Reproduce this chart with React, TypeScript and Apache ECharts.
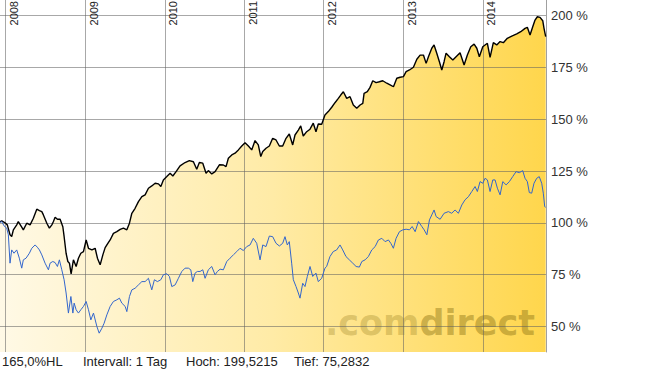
import React, { useEffect, useRef } from "react";
import * as echarts from "echarts";

// time as decimal years
const blackYears = [2007.928, 2007.950, 2007.991, 2008.020, 2008.054, 2008.075, 2008.096, 2008.138, 2008.158, 2008.201, 2008.221, 2008.264, 2008.306, 2008.347, 2008.390, 2008.423, 2008.453, 2008.473, 2008.516, 2008.548, 2008.579, 2008.599, 2008.620, 2008.649, 2008.683, 2008.717, 2008.733, 2008.758, 2008.780, 2008.800, 2008.821, 2008.850, 2008.884, 2008.913, 2008.943, 2008.976, 2009.010, 2009.039, 2009.082, 2009.123, 2009.152, 2009.186, 2009.220, 2009.249, 2009.291, 2009.312, 2009.353, 2009.396, 2009.438, 2009.479, 2009.522, 2009.555, 2009.585, 2009.626, 2009.668, 2009.711, 2009.752, 2009.794, 2009.836, 2009.878, 2009.920, 2009.950, 2009.982, 2010.025, 2010.067, 2010.101, 2010.142, 2010.192, 2010.255, 2010.309, 2010.360, 2010.402, 2010.435, 2010.478, 2010.519, 2010.548, 2010.591, 2010.633, 2010.687, 2010.737, 2010.771, 2010.800, 2010.843, 2010.884, 2010.926, 2010.969, 2011.010, 2011.052, 2011.094, 2011.136, 2011.177, 2011.208, 2011.233, 2011.274, 2011.316, 2011.358, 2011.400, 2011.442, 2011.484, 2011.526, 2011.567, 2011.610, 2011.639, 2011.681, 2011.711, 2011.743, 2011.786, 2011.828, 2011.869, 2011.903, 2011.932, 2011.975, 2012.016, 2012.058, 2012.101, 2012.142, 2012.184, 2012.214, 2012.247, 2012.289, 2012.331, 2012.372, 2012.415, 2012.457, 2012.491, 2012.507, 2012.548, 2012.582, 2012.616, 2012.658, 2012.699, 2012.742, 2012.792, 2012.834, 2012.876, 2012.918, 2012.960, 2013.001, 2013.035, 2013.077, 2013.127, 2013.170, 2013.211, 2013.253, 2013.287, 2013.316, 2013.358, 2013.387, 2013.421, 2013.454, 2013.484, 2013.513, 2013.538, 2013.580, 2013.623, 2013.664, 2013.714, 2013.765, 2013.806, 2013.849, 2013.891, 2013.925, 2013.957, 2014.000, 2014.058, 2014.092, 2014.133, 2014.176, 2014.218, 2014.259, 2014.309, 2014.365, 2014.428, 2014.478, 2014.532, 2014.561, 2014.595, 2014.629, 2014.658, 2014.687, 2014.721, 2014.755, 2014.771, 2014.792];
const blackValues = [100.4, 101.0, 100.0, 99.0, 94.2, 93.4, 96.6, 99.0, 100.6, 97.9, 96.6, 99.8, 99.0, 102.2, 106.6, 105.9, 105.4, 103.8, 99.8, 97.4, 99.0, 100.6, 102.7, 101.7, 101.7, 98.1, 93.4, 85.3, 81.3, 80.5, 75.3, 82.1, 78.9, 82.9, 85.3, 86.1, 91.7, 87.7, 86.9, 87.7, 82.9, 79.7, 84.5, 88.0, 90.5, 91.7, 94.9, 95.7, 96.8, 97.4, 96.6, 99.8, 104.6, 107.0, 110.2, 112.6, 113.5, 116.7, 117.8, 119.1, 118.8, 117.5, 120.7, 122.3, 123.9, 122.6, 124.7, 127.5, 129.1, 130.0, 129.5, 125.9, 129.1, 128.8, 123.9, 125.2, 123.6, 124.7, 128.0, 127.9, 127.1, 131.2, 132.8, 133.6, 135.2, 137.1, 138.7, 137.1, 135.2, 139.7, 137.6, 132.0, 134.4, 136.0, 137.1, 140.8, 140.0, 137.1, 137.1, 140.8, 142.9, 137.6, 142.4, 144.8, 146.8, 141.9, 144.0, 145.2, 148.1, 144.0, 147.7, 147.6, 152.1, 153.7, 155.8, 158.0, 160.1, 161.7, 163.3, 160.1, 160.9, 156.9, 155.3, 156.9, 157.7, 162.5, 163.3, 165.4, 168.6, 167.7, 168.1, 168.6, 167.4, 166.6, 165.7, 169.8, 170.3, 170.6, 173.0, 173.8, 175.1, 179.0, 181.0, 181.0, 177.0, 180.2, 184.3, 185.9, 181.9, 177.8, 173.8, 177.8, 181.9, 180.2, 178.6, 180.2, 182.1, 176.2, 181.0, 185.0, 186.3, 184.3, 180.2, 185.0, 186.7, 179.9, 187.0, 185.9, 187.5, 187.0, 189.1, 190.2, 191.2, 192.3, 193.9, 194.4, 190.7, 194.7, 197.9, 199.5, 199.2, 197.6, 193.9, 189.9];

const blueYears = [2007.928, 2007.950, 2007.979, 2008.013, 2008.033, 2008.054, 2008.075, 2008.104, 2008.138, 2008.171, 2008.201, 2008.221, 2008.255, 2008.297, 2008.327, 2008.369, 2008.397, 2008.423, 2008.453, 2008.494, 2008.536, 2008.557, 2008.591, 2008.620, 2008.649, 2008.674, 2008.704, 2008.733, 2008.758, 2008.787, 2008.818, 2008.843, 2008.859, 2008.884, 2008.913, 2008.943, 2008.976, 2009.010, 2009.039, 2009.069, 2009.102, 2009.145, 2009.174, 2009.208, 2009.236, 2009.270, 2009.312, 2009.353, 2009.396, 2009.429, 2009.459, 2009.501, 2009.522, 2009.555, 2009.585, 2009.626, 2009.668, 2009.711, 2009.752, 2009.794, 2009.836, 2009.869, 2009.907, 2009.950, 2009.982, 2010.025, 2010.058, 2010.088, 2010.130, 2010.171, 2010.214, 2010.255, 2010.297, 2010.327, 2010.352, 2010.381, 2010.410, 2010.444, 2010.478, 2010.507, 2010.548, 2010.591, 2010.633, 2010.662, 2010.696, 2010.737, 2010.780, 2010.821, 2010.863, 2010.906, 2010.947, 2010.989, 2011.031, 2011.073, 2011.114, 2011.157, 2011.199, 2011.233, 2011.274, 2011.316, 2011.358, 2011.400, 2011.442, 2011.484, 2011.513, 2011.542, 2011.567, 2011.597, 2011.618, 2011.652, 2011.681, 2011.702, 2011.736, 2011.765, 2011.794, 2011.828, 2011.862, 2011.903, 2011.932, 2011.975, 2012.016, 2012.037, 2012.079, 2012.120, 2012.163, 2012.205, 2012.239, 2012.280, 2012.322, 2012.365, 2012.407, 2012.448, 2012.479, 2012.520, 2012.561, 2012.604, 2012.646, 2012.687, 2012.730, 2012.771, 2012.813, 2012.843, 2012.875, 2012.909, 2012.951, 2012.994, 2013.035, 2013.077, 2013.111, 2013.149, 2013.190, 2013.233, 2013.262, 2013.296, 2013.329, 2013.358, 2013.387, 2013.413, 2013.463, 2013.513, 2013.567, 2013.609, 2013.651, 2013.693, 2013.736, 2013.777, 2013.819, 2013.862, 2013.903, 2013.932, 2013.966, 2014.000, 2014.029, 2014.058, 2014.092, 2014.126, 2014.155, 2014.184, 2014.218, 2014.252, 2014.294, 2014.335, 2014.377, 2014.419, 2014.460, 2014.503, 2014.532, 2014.561, 2014.586, 2014.616, 2014.645, 2014.679, 2014.711, 2014.742, 2014.762, 2014.780, 2014.792];
const blueValues = [100.2, 100.6, 98.5, 97.4, 94.2, 80.5, 86.9, 85.3, 86.9, 82.9, 78.1, 82.1, 82.9, 85.3, 87.7, 89.3, 88.2, 86.9, 84.5, 80.5, 77.3, 80.5, 81.3, 80.8, 78.9, 82.1, 77.3, 72.5, 66.1, 56.4, 64.4, 56.4, 61.2, 58.0, 56.4, 58.0, 59.6, 62.0, 58.0, 53.1, 56.4, 49.9, 46.7, 49.1, 51.5, 55.5, 59.6, 62.0, 62.8, 63.6, 61.2, 59.6, 57.1, 64.4, 67.6, 68.4, 70.0, 71.6, 71.6, 73.2, 67.6, 72.5, 71.6, 72.5, 74.9, 75.4, 74.1, 69.2, 70.0, 73.2, 76.5, 78.1, 78.1, 77.3, 71.6, 75.7, 76.5, 76.5, 77.3, 73.2, 77.3, 78.9, 74.9, 76.5, 77.6, 77.3, 81.3, 82.9, 84.5, 86.1, 87.7, 86.6, 88.5, 89.3, 92.5, 90.1, 82.1, 89.3, 88.5, 93.6, 93.3, 90.1, 88.8, 90.1, 93.3, 89.3, 90.9, 80.5, 72.5, 69.2, 66.1, 63.6, 70.8, 69.2, 74.1, 78.9, 74.1, 75.7, 71.6, 73.2, 78.1, 78.9, 83.7, 86.1, 86.9, 89.3, 86.9, 83.7, 82.1, 80.5, 78.9, 78.6, 81.3, 82.1, 83.7, 86.9, 88.5, 91.7, 92.5, 90.9, 91.7, 90.1, 87.7, 92.5, 95.7, 96.6, 96.9, 96.6, 98.2, 95.7, 100.6, 98.2, 96.6, 94.2, 101.4, 103.8, 106.2, 103.0, 101.7, 104.6, 105.4, 104.6, 106.2, 104.6, 108.6, 111.1, 112.6, 115.1, 117.5, 115.1, 119.9, 119.1, 121.5, 120.7, 115.1, 120.7, 120.7, 116.7, 113.5, 119.9, 118.3, 119.9, 122.3, 124.7, 124.2, 125.2, 121.5, 119.9, 114.6, 114.3, 119.1, 121.5, 122.3, 119.1, 114.3, 107.8, 107.5];

const xRange = [2007.928, 2014.796];
const yRange = [37.6, 207.6];
const yearTicks = [2008, 2009, 2010, 2011, 2012, 2013, 2014];
const gridValues = [50, 75, 100, 125, 150, 175, 200];
const infoTexts = ["165,0%HL", "Intervall: 1 Tag", "Hoch: 199,5215", "Tief: 75,2832"];
const infoLefts = [2, 83, 186, 294];

const toTime = (yr: number) => {
  const y0 = Math.floor(yr);
  const a = new Date(y0, 0, 1).getTime();
  const b = new Date(y0 + 1, 0, 1).getTime();
  return a + (yr - y0) * (b - a);
};

const FONT = "'Liberation Sans', Arial, sans-serif";

export default function App() {
  const ref = useRef<HTMLDivElement>(null);
  useEffect(() => {
    if (!ref.current) return;
    const chart = echarts.init(ref.current, null, { renderer: "svg" });
    const blackData = blackYears.map((t, i) => [toTime(t), blackValues[i]]);
    const blueData = blueYears.map((t, i) => [toTime(t), blueValues[i]]);
    const gridColor = "rgba(96,96,96,0.55)";
    const hLines = gridValues.map((v) => ({
      yAxis: v,
      label: {
        show: true,
        position: "end",
        distance: 5,
        formatter: v + " %",
        fontFamily: FONT,
        fontSize: 13,
        color: "#333",
      },
    }));
    const vLines = yearTicks.map((y) => ({
      xAxis: toTime(y),
      label: {
        show: true,
        position: "insideEndBottom",
        distance: [1, 3],
        formatter: String(y),
        fontFamily: FONT,
        fontSize: 11,
        color: "#222",
      },
    }));
    chart.setOption({
      animation: false,
      grid: { left: 0, right: 99, top: 0, bottom: 20, containLabel: false },
      xAxis: {
        type: "time",
        min: toTime(xRange[0]),
        max: toTime(xRange[1]),
        axisLine: { show: false },
        axisTick: { show: false },
        splitLine: { show: false },
        axisLabel: { show: false },
      },
      yAxis: {
        type: "value",
        position: "right",
        min: yRange[0],
        max: yRange[1],
        z: 2,
        axisLine: { show: true, lineStyle: { color: "#a0a0a0", width: 1 } },
        axisTick: { show: false },
        axisLabel: { show: false },
        splitLine: { show: false },
      },
      series: [
        {
          type: "line",
          data: blackData,
          showSymbol: false,
          z: 1,
          silent: true,
          lineStyle: { width: 0 },
          areaStyle: {
            opacity: 1,
            color: new echarts.graphic.LinearGradient(0, 0, 1, 0, [
              { offset: 0, color: "#FFF9E6" },
              { offset: 0.5, color: "#FFEBA6" },
              { offset: 1, color: "#FFD64C" },
            ]),
          },
          markLine: {
            silent: true,
            symbol: "none",
            z: 2,
            lineStyle: { color: gridColor, width: 1, type: "solid" },
            data: [...hLines, ...vLines],
          },
        },
        {
          type: "line",
          data: blackData,
          showSymbol: false,
          z: 3,
          silent: true,
          lineStyle: { color: "#000", width: 1.4 },
        },
        {
          type: "line",
          data: blueData,
          showSymbol: false,
          z: 4,
          silent: true,
          lineStyle: { color: "#3366cc", width: 1 },
        },
      ],
      graphic: [
        {
          type: "text",
          left: 325,
          top: 305,
          z: 2,
          silent: true,
          style: {
            text: "{a|.com}{b|direct}",
            rich: {
              a: { fontFamily: "'DejaVu Sans', sans-serif", fontWeight: "bold", fontSize: 35, fill: "rgba(140,115,20,0.3)" },
              b: { fontFamily: "'DejaVu Sans', sans-serif", fontWeight: "bold", fontSize: 35, fill: "rgba(140,115,20,0.45)" },
            },
          },
        },
        ...infoTexts.map((t, i) => ({
          type: "text",
          left: infoLefts[i],
          top: 355,
          style: { text: t, fontFamily: FONT, fontSize: 13, fill: "#222" },
        })),
      ],
    });
    return () => chart.dispose();
  }, []);
  return (
    <div
      ref={ref}
      style={{ position: "fixed", left: 0, top: 0, width: 645, height: 372, background: "#fff" }}
    />
  );
}
